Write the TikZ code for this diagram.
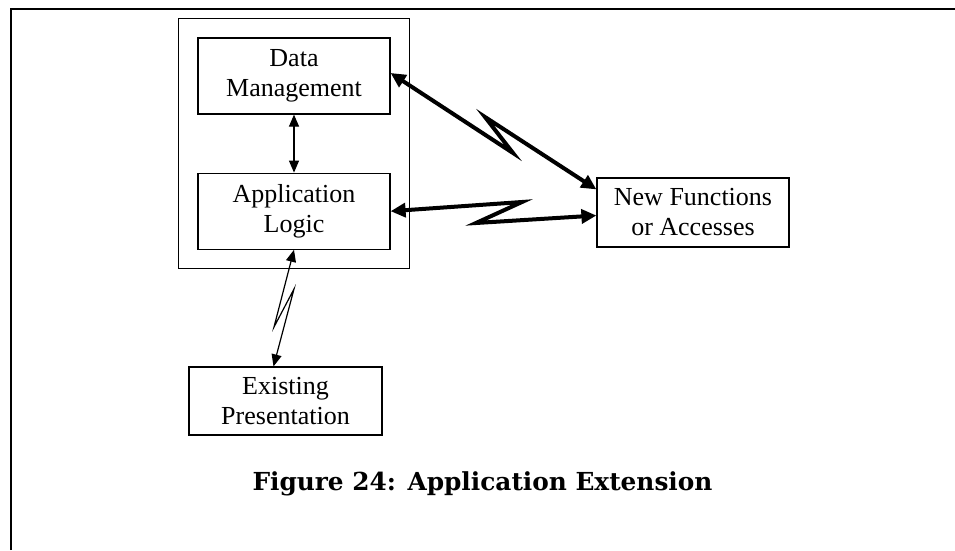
\documentclass[tikz,border=0pt]{standalone}
\usepackage{fontspec}
\setmainfont{Liberation Serif}
\newfontfamily\captionfont{DejaVu Serif}
\usetikzlibrary{positioning,fit,arrows.meta}

\tikzset{
  block/.style={draw, line width=1.2pt, inner sep=0pt, align=center,
    minimum width=192pt, font=\fontsize{26}{30}\selectfont},
  thinlink/.style={line width=1.2pt, {Triangle[length=12pt,width=10pt]}-{Triangle[length=12pt,width=10pt]}},
  thicklink/.style={line width=4pt, line join=miter, {Triangle[length=15pt,width=14pt]}-{Triangle[length=15pt,width=14pt]}}
}

\begin{document}
\begin{tikzpicture}[x=1pt, y=-1pt]
\useasboundingbox (0,0) rectangle (955,550);
\draw[line width=2.2pt] (11,550) -- (11,9) -- (955,9);

\node[block, minimum height=76pt] (dm) at (294,76) {Data\\Management};
\node[block, minimum height=76pt, below=58pt of dm] (al) {Application\\Logic};
\node[draw, line width=1.2pt, inner sep=19pt, fit=(dm) (al)] (app) {};
\node[block, minimum height=69pt] (nf) at (693,212.5) {New Functions\\or Accesses};
\node[block, minimum height=68pt, minimum width=193pt] (ep) at (285.5,401) {Existing\\Presentation};

\node[font=\captionfont\bfseries\fontsize{24.8}{28}\selectfont, anchor=base] (cap) at (482.5,490)
  {Figure 24: Application Extension};

% bends of the links
\coordinate (dmtip) at ([yshift=3pt]dm.east);
\coordinate (nftop) at ([yshift=-12pt]nf.north west);
\coordinate (z1) at (513,153);
\coordinate (z2) at (485,117);
\coordinate (z3) at (522,202);
\coordinate (z4) at (476,223);
\coordinate (nfmid) at ([yshift=-3pt]nf.west);
\coordinate (z5) at (274,327);
\coordinate (z6) at (294,289);
\coordinate (eptop) at ([xshift=-12pt]ep.north);

\draw[thinlink] (dm) -- (al);
\draw[thicklink] (dmtip) -- (z1) -- (z2) -- (nftop);
\draw[thicklink] (al.east) -- (z3) -- (z4) -- (nfmid);
\draw[thinlink] (al.south) -- (z5) -- (z6) -- (eptop);
\end{tikzpicture}
\end{document}
